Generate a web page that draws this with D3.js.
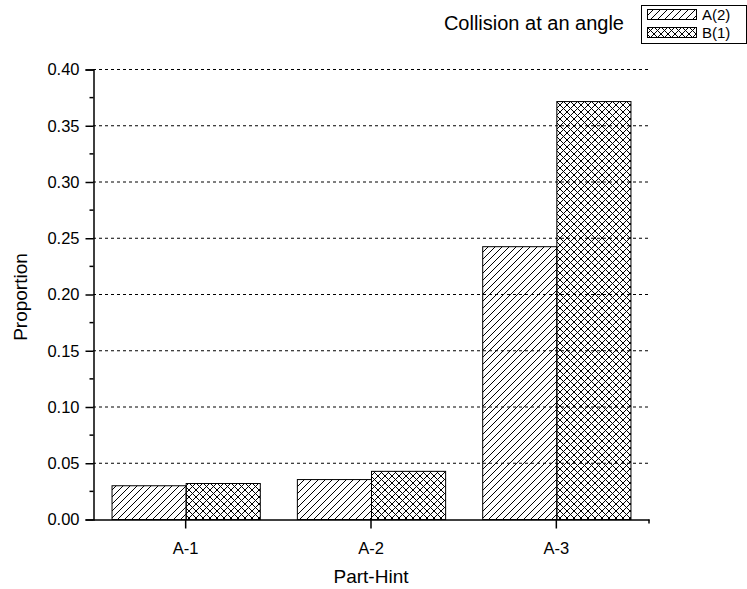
<!DOCTYPE html>
<meta charset="utf-8">
<script src="https://d3js.org/d3.v7.min.js"></script>
<body style="margin:0;background:#fff">
<svg width="747" height="589"></svg>
<script>
var categories = ["A-1", "A-2", "A-3"];
var seriesNames = ["A(2)", "B(1)"];
var valuesA = [0.030, 0.0355, 0.2425];
var valuesB = [0.032, 0.0428, 0.3715];
var yTicks = [0, 0.05, 0.10, 0.15, 0.20, 0.25, 0.30, 0.35, 0.40];
var legendTitle = "Collision at an angle";

var svg = d3.select("svg");
var margin = {left: 93, right: 98, top: 69, bottom: 70};
var W = 747, H = 589;
var font = "Arial, 'Liberation Sans', sans-serif";

// hatch patterns
var defs = svg.append("defs");
var pA = defs.append("pattern").attr("id", "hatchA").attr("patternUnits", "userSpaceOnUse")
    .attr("width", 7).attr("height", 7);
pA.append("path").attr("d", "M-1,1 l2,-2 M0,7 l7,-7 M6,8 l2,-2").attr("stroke", "#000").attr("stroke-width", 1);
var pB = defs.append("pattern").attr("id", "hatchB").attr("patternUnits", "userSpaceOnUse")
    .attr("width", 7).attr("height", 7);
pB.append("path").attr("d", "M-1,1 l2,-2 M0,7 l7,-7 M6,8 l2,-2 M-1,6 l2,2 M0,0 l7,7 M6,-1 l2,2").attr("stroke", "#000").attr("stroke-width", 1);

var x = d3.scaleBand().domain(categories).range([margin.left, W - margin.right]).padding(0);
var xs = d3.scaleBand().domain(seriesNames).range([0, x.bandwidth() * 0.8]);
var y = d3.scaleLinear().domain([0, 0.40]).range([H - margin.bottom, margin.top]);

// grid
svg.append("g").selectAll("line").data(yTicks.slice(1)).join("line")
    .attr("x1", margin.left).attr("x2", W - margin.right)
    .attr("y1", d => y(d) + 0.5).attr("y2", d => y(d) + 0.5)
    .attr("stroke", "#000").attr("stroke-width", 1).attr("stroke-dasharray", "3,3");

// bars
var data = [];
categories.forEach(function(c, i) {
  data.push({cat: c, s: seriesNames[0], v: valuesA[i], fill: "url(#hatchA)"});
  data.push({cat: c, s: seriesNames[1], v: valuesB[i], fill: "url(#hatchB)"});
});
var off = x.bandwidth() * 0.1;
svg.append("g").selectAll("rect").data(data).join("rect")
    .attr("x", d => x(d.cat) + off + xs(d.s) + 0.5)
    .attr("y", d => y(d.v) + 0.5)
    .attr("width", xs.bandwidth())
    .attr("height", d => y(0) - y(d.v))
    .attr("fill", d => d.fill)
    .attr("stroke", "#000").attr("stroke-width", 1);

// y axis
var yAxis = d3.axisLeft(y).tickValues(yTicks).tickFormat(d3.format(".2f")).tickSize(8).tickPadding(6);
var gy = svg.append("g").attr("transform", "translate(" + (margin.left + 0.5) + ",0.5)").call(yAxis);
gy.select(".domain").attr("stroke-width", 1.5);
gy.selectAll("text").attr("font-family", font).attr("font-size", 16.5).attr("fill", "#000");
gy.selectAll("line").attr("stroke-width", 1.5);
var minor = d3.range(0.025, 0.40, 0.05);
gy.selectAll(".minor").data(minor).join("line").attr("class", "minor")
    .attr("x1", -4).attr("x2", 0).attr("y1", d => y(d)).attr("y2", d => y(d))
    .attr("stroke", "#000").attr("stroke-width", 1.5);

// x axis
var xAxis = d3.axisBottom(x).tickSize(9).tickPadding(14).tickSizeOuter(0);
var gx = svg.append("g").attr("transform", "translate(0," + (y(0) + 0.5) + ")").call(xAxis);
gx.select(".domain").attr("stroke-width", 1.5);
gx.selectAll("line").attr("stroke-width", 1.5);
gx.selectAll("text").attr("font-family", font).attr("font-size", 16.5).attr("fill", "#000");
gx.append("line").attr("x1", W - margin.right).attr("x2", W - margin.right).attr("y1", 0).attr("y2", 4)
    .attr("stroke", "#000").attr("stroke-width", 1.5);

// axis titles
svg.append("text").attr("x", (margin.left + W - margin.right) / 2).attr("y", 583)
    .attr("text-anchor", "middle").attr("font-family", font).attr("font-size", 19).text("Part-Hint");
svg.append("text").attr("transform", "translate(27,297) rotate(-90)")
    .attr("text-anchor", "middle").attr("font-family", font).attr("font-size", 19).text("Proportion");

// legend
svg.append("text").attr("x", 624).attr("y", 30).attr("text-anchor", "end")
    .attr("font-family", font).attr("font-size", 20).text(legendTitle);
svg.append("rect").attr("x", 641.5).attr("y", 5.5).attr("width", 105).attr("height", 38)
    .attr("fill", "#fff").attr("stroke", "#000");
var lg = svg.append("g").selectAll("g").data(seriesNames).join("g")
    .attr("transform", (d, i) => "translate(647," + (9 + i * 18) + ")");
lg.append("rect").attr("x", 0.5).attr("y", 0.5).attr("width", 49).attr("height", 10)
    .attr("fill", (d, i) => i === 0 ? "url(#hatchA)" : "url(#hatchB)").attr("stroke", "#000");
lg.append("text").attr("x", 55).attr("y", 11).attr("font-family", font).attr("font-size", 15).text(d => d);
</script>
</body>
